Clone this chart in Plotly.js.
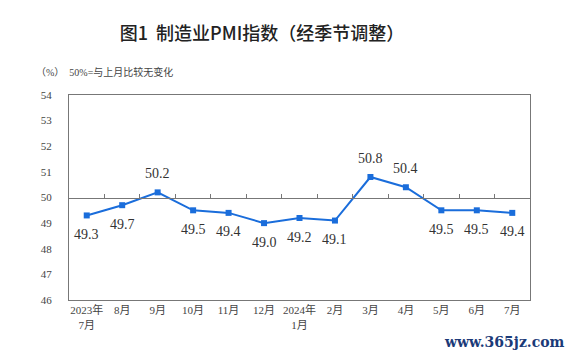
<!DOCTYPE html>
<html><head><meta charset="utf-8">
<script src="https://cdn.plot.ly/plotly-3.0.1.min.js"></script>
<style>html,body{margin:0;padding:0;background:#fff}#c{width:572px;height:357px}</style>
</head><body><div id="c"></div>
<script>
const categories = ["2023年<br>7月","8月","9月","10月","11月","12月","2024年<br>1月","2月","3月","4月","5月","6月","7月"];
const pmiValues = [49.3,49.7,50.2,49.5,49.4,49.0,49.2,49.1,50.8,50.4,49.5,49.5,49.4];
const valueLabels = ["49.3","49.7","50.2","49.5","49.4","49.0","49.2","49.1","50.8","50.4","49.5","49.5","49.4"];
const labelAbove = [false,false,true,false,false,false,false,false,true,true,false,false,false];
const yTicks = [46,47,48,49,50,51,52,53,54];

const idx = categories.map((_, i) => i);
const serif = "Liberation Serif, Times New Roman, serif";
const cjk = "Liberation Serif, Noto Sans CJK SC, serif";

const traces = [
  {
    x: idx, y: pmiValues, type: "scatter", mode: "lines+markers",
    line: {color: "#1a6ddb", width: 2},
    marker: {symbol: "square", size: 6, color: "#1a6ddb"},
    hoverinfo: "skip"
  },
  { x: [0.5], y: [50], xaxis: "x2", type: "scatter", mode: "markers", marker: {opacity: 0}, hoverinfo: "skip", showlegend: false }
];

const labelAnnotations = idx.map(i => ({
  x: i, y: pmiValues[i], xref: "x", yref: "y", text: valueLabels[i], showarrow: false,
  yshift: labelAbove[i] ? 19 : -19, xanchor: "center", yanchor: "middle",
  font: {family: serif, size: 14, color: "#333"}
}));

const layout = {
  width: 572, height: 357,
  margin: {l: 69, r: 42, t: 95, b: 57},
  paper_bgcolor: "#fff", plot_bgcolor: "#fff",
  showlegend: false,
  title: {text: "图1  制造业PMI指数（经季节调整）", x: 0.458, xanchor: "center", y: 0.905, yanchor: "middle",
          font: {family: "Noto Sans CJK SC, serif", size: 18, color: "#222", weight: 500}},
  xaxis: {
    range: [-0.5, 12.5], tickvals: idx, ticktext: categories,
    showline: true, linecolor: "#777", linewidth: 1, mirror: true,
    showgrid: false, zeroline: false, ticks: "",
    tickfont: {family: cjk, size: 11, color: "#444"}
  },
  xaxis2: {
    overlaying: "x", anchor: "free", position: 0.5, side: "top",
    range: [-0.5, 12.5], tickvals: [0.5,1.5,2.5,3.5,4.5,5.5,6.5,7.5,8.5,9.5,10.5,11.5],
    showticklabels: false, ticks: "outside", ticklen: 4, tickcolor: "#777",
    showline: true, linecolor: "#777", linewidth: 1, showgrid: false, zeroline: false
  },
  yaxis: {
    range: [46, 54], tickvals: yTicks, ticktext: yTicks.map(String),
    showline: true, linecolor: "#777", linewidth: 1, mirror: true,
    showgrid: false, zeroline: false, ticks: "", ticklabelstandoff: 14,
    tickfont: {family: serif, size: 11, color: "#444"}
  },
  annotations: labelAnnotations.concat([
    {text: "（%）  50%=与上月比较无变化", xref: "paper", yref: "paper", x: -0.075, y: 1.11, xanchor: "left", yanchor: "middle",
     showarrow: false, font: {family: cjk, size: 10, color: "#444"}},
    {text: "<b>www.365jz.com</b>", xref: "paper", yref: "paper", x: 1.08, y: -0.205, xanchor: "right", yanchor: "middle",
     showarrow: false, font: {family: "DejaVu Serif, serif", size: 14, color: "#1b3a78"}}
  ])
};

Plotly.newPlot("c", traces, layout, {displayModeBar: false, staticPlot: true});
</script></body></html>
